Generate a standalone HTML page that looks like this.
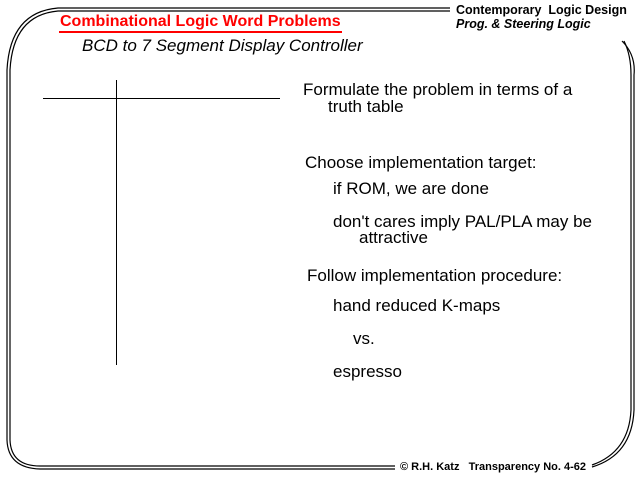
<!DOCTYPE html>
<html><head><meta charset="utf-8"><style>
body{margin:0;width:640px;height:480px;background:#fff;position:relative;overflow:hidden;font-family:"Liberation Sans",Arial,sans-serif}
.t{position:absolute;white-space:nowrap;color:#000}
.b{font-size:17px}
</style></head><body>
<svg width="640" height="480" style="position:absolute;left:0;top:0" fill="none" stroke="#000">
<path d="M450,8 L58,8 Q10,12 7,70 L7,440 Q8,468 40,469 L395,469" stroke-width="1.2"/>
<path d="M450,11 L58,11 Q13,15 10,70 L10,440 Q11,466 40,466 L395,466" stroke-width="1.2"/>
<path d="M622,41 Q636,55 634,75 L634,410 Q632,455 592,467" stroke-width="1.2"/>
<path d="M624,41 Q631,55 631,75 L631,410 Q629,452 592,465" stroke-width="1.2"/>
<line x1="43" y1="98.5" x2="280" y2="98.5" stroke-width="1"/>
<line x1="116.5" y1="80" x2="116.5" y2="365" stroke-width="1"/>
</svg>
<div class="t" style="left:59px;top:13px;font-size:16px;font-weight:bold;color:#f00;border-bottom:2px solid #f00;line-height:18px;padding:0 1px">Combinational Logic Word Problems</div>
<div class="t" style="left:82px;top:36px;font-size:17px;font-style:italic">BCD to 7 Segment Display Controller</div>
<div class="t" style="left:456px;top:3px;font-size:12.5px;font-weight:bold">Contemporary &nbsp;Logic Design</div>
<div class="t" style="left:456px;top:17px;font-size:12.5px;font-weight:bold;font-style:italic">Prog. &amp; Steering Logic</div>
<div class="t b" style="left:303px;top:80px">Formulate the problem in terms of a</div>
<div class="t b" style="left:328px;top:97px">truth table</div>
<div class="t b" style="left:305px;top:153px">Choose implementation target:</div>
<div class="t b" style="left:333px;top:179px">if ROM, we are done</div>
<div class="t b" style="left:333px;top:212px">don't cares imply PAL/PLA may be</div>
<div class="t b" style="left:359px;top:228px">attractive</div>
<div class="t b" style="left:307px;top:266px">Follow implementation procedure:</div>
<div class="t b" style="left:333px;top:296px">hand reduced K-maps</div>
<div class="t b" style="left:353px;top:329px">vs.</div>
<div class="t b" style="left:333px;top:362px">espresso</div>
<div class="t" style="left:397px;top:461px;font-size:11px;font-weight:bold;background:#fff;padding:0 3px">© R.H. Katz &nbsp;&nbsp;Transparency No. 4-62</div>
</body></html>
